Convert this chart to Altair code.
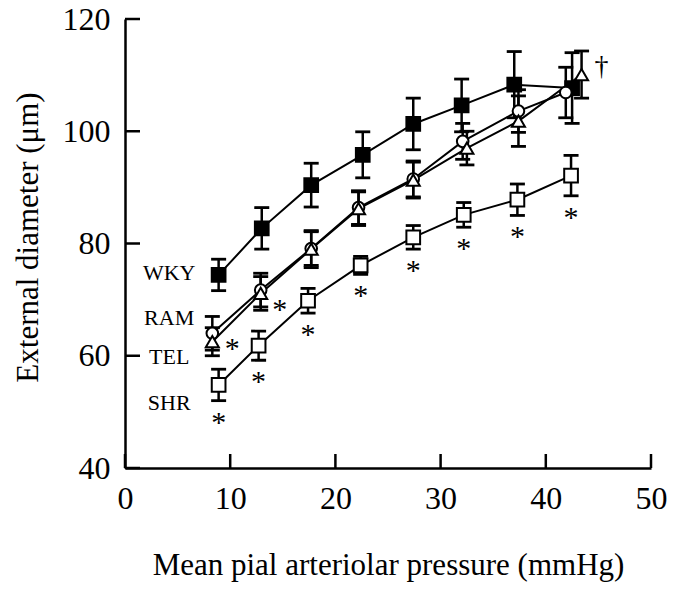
import altair as alt
import pandas as pd

# ---- data ----
groups = ["WKY", "SHR", "RAM", "TEL"]

wky_x = [8.9, 13.0, 17.7, 22.6, 27.4, 32.0, 37.0, 42.5]
wky_y = [74.4, 82.7, 90.4, 95.8, 101.3, 104.6, 108.3, 107.7]
wky_sem = [2.8, 3.7, 3.9, 4.1, 4.6, 4.7, 5.9, 6.3]

shr_x = [8.9, 12.7, 17.4, 22.4, 27.4, 32.2, 37.3, 42.4]
shr_y = [54.8, 61.8, 69.8, 76.1, 81.1, 85.1, 87.8, 92.1]
shr_sem = [2.8, 2.6, 2.2, 1.6, 2.1, 2.2, 2.8, 3.6]

ram_x = [8.3, 12.9, 17.7, 22.2, 27.4, 32.1, 37.4, 41.9]
ram_y = [64.0, 71.7, 79.1, 86.4, 91.5, 98.2, 103.6, 106.9]
ram_sem = [3.0, 3.0, 3.0, 3.0, 3.2, 3.2, 3.8, 4.5]

tel_x = [8.3, 12.9, 17.7, 22.2, 27.4, 32.5, 37.4, 43.4]
tel_y = [62.5, 71.1, 79.0, 86.2, 91.3, 97.0, 101.8, 110.1]
tel_sem = [2.5, 3.0, 3.3, 3.0, 3.2, 3.0, 4.5, 4.2]

label_text = ["WKY", "RAM", "TEL", "SHR"]
label_x = [4.2, 4.2, 4.2, 4.2]
label_y = [74.8, 66.8, 59.8, 51.5]

star_x = [10.2, 14.7]
star_y = [62.0, 68.9]

dagger_x = [45.3]
dagger_y = [111.5]

x_ticks = [0, 10, 20, 30, 40, 50]
y_ticks = [40, 60, 80, 100, 120]

FONT = "Liberation Serif"

# ---- build tables ----
rows = []
for g, xv, yv, sv in [("WKY", wky_x, wky_y, wky_sem), ("SHR", shr_x, shr_y, shr_sem),
                      ("RAM", ram_x, ram_y, ram_sem), ("TEL", tel_x, tel_y, tel_sem)]:
    for i in range(len(xv)):
        rows.append(dict(group=g, idx=i, x=xv[i], y=yv[i], lo=yv[i] - sv[i], hi=yv[i] + sv[i]))
df = pd.DataFrame(rows)

labels_df = pd.DataFrame(dict(t=label_text, x=label_x, y=label_y))
stars_df = pd.DataFrame(dict(x=star_x, y=star_y))
dagger_df = pd.DataFrame(dict(x=dagger_x, y=dagger_y))
xt_df = pd.DataFrame(dict(v=x_ticks))
yt_df = pd.DataFrame(dict(v=y_ticks))

xs = alt.Scale(domain=[0, 50], nice=False, zero=False)
ys = alt.Scale(domain=[40, 120], nice=False, zero=False)

XT = "Mean pial arteriolar pressure (mmHg)"
YT = "External diameter (μm)"
xaxis = alt.Axis(values=x_ticks, title=XT, labelPadding=15, titlePadding=36,
                 labelFlush=False)
yaxis = alt.Axis(values=y_ticks, title=YT, labelPadding=15, titlePadding=18,
                 labelFlush=False, titleY=218)

X = lambda f: alt.X(f, scale=xs, axis=xaxis, title=XT)
Y = lambda f: alt.Y(f, scale=ys, axis=yaxis, title=YT)

base = alt.Chart(df)

lines = base.mark_line(color="black", strokeWidth=2).encode(
    x=X("x:Q"), y=Y("y:Q"), detail="group:N", order="idx:Q",
)

xtick_rules = alt.Chart(xt_df).mark_rule(color="black", strokeWidth=2.5).encode(
    x=X("v:Q"), y=alt.value(449), y2=alt.value(435)
)
ytick_rules = alt.Chart(yt_df).mark_rule(color="black", strokeWidth=2.5).encode(
    y=Y("v:Q"), x=alt.value(0), x2=alt.value(15)
)

err = base.mark_rule(color="black", strokeWidth=2.5).encode(
    x=X("x:Q"), y=Y("lo:Q"), y2="hi:Q"
)
cap_lo = base.mark_tick(color="black", orient="horizontal", size=15, thickness=2.8, opacity=1).encode(
    x=X("x:Q"), y=Y("lo:Q")
)
cap_hi = base.mark_tick(color="black", orient="horizontal", size=15, thickness=2.8, opacity=1).encode(
    x=X("x:Q"), y=Y("hi:Q")
)

def markers(g, shape, fill, size):
    return base.transform_filter(alt.datum.group == g).mark_point(
        shape=shape, filled=True, fill=fill, stroke="black", strokeWidth=2,
        size=size, opacity=1
    ).encode(x=X("x:Q"), y=Y("y:Q"))

m_wky = markers("WKY", "square", "black", 188)
m_shr = markers("SHR", "square", "white", 188)
m_ram = markers("RAM", "circle", "white", 135)
m_tel = markers("TEL", "triangle-up", "white", 170)

group_labels = alt.Chart(labels_df).mark_text(
    font=FONT, fontSize=22, align="center", baseline="middle", color="black"
).encode(x=X("x:Q"), y=Y("y:Q"), text="t:N")

shr_stars = base.transform_filter(alt.datum.group == "SHR").mark_text(
    text="*", font=FONT, fontSize=30, align="center", baseline="middle", dy=22, color="black"
).encode(x=X("x:Q"), y=Y("lo:Q"))

rt_stars = alt.Chart(stars_df).mark_text(
    text="*", font=FONT, fontSize=30, align="center", baseline="middle", dy=4, color="black"
).encode(x=X("x:Q"), y=Y("y:Q"))

dagger = alt.Chart(dagger_df).mark_text(
    text="†", font=FONT, fontSize=28, align="center", baseline="middle", color="black"
).encode(x=X("x:Q"), y=Y("y:Q"))

chart = alt.layer(
    xtick_rules, ytick_rules, lines, err, cap_lo, cap_hi,
    m_wky, m_shr, m_ram, m_tel, group_labels, shr_stars, rt_stars, dagger
).properties(
    width=526, height=449,
    autosize=alt.AutoSizeParams(type="none"),
    padding={"left": 117, "top": 11, "right": 16, "bottom": 117},
    background="white",
).configure_view(
    stroke=None
).configure_axis(
    grid=False,
    ticks=False,
    tickSize=0,
    domainColor="black",
    domainWidth=2.5,
    labelFont=FONT,
    labelFontSize=32,
    labelColor="black",
    titleFont=FONT,
    titleFontSize=31,
    titleFontWeight="normal",
    titleColor="black",
)

chart.save("out.html", embed_options={"renderer": "svg", "actions": False})
